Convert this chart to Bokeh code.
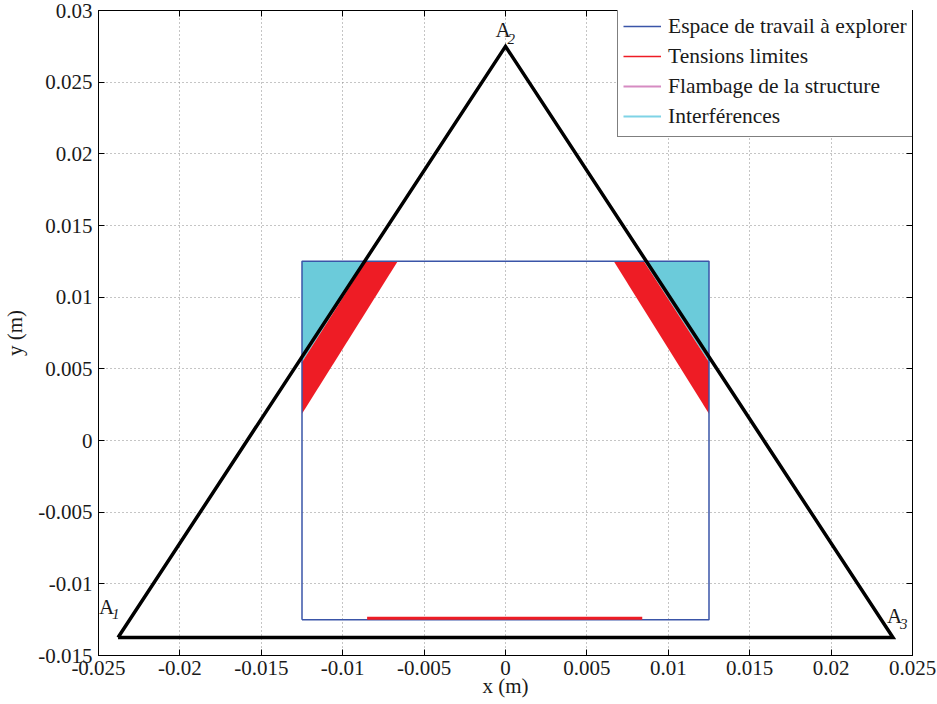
from bokeh.plotting import figure
from bokeh.models import (ColumnDataSource, FixedTicker, CustomJSTickFormatter,
                          LinearAxis, Legend, LegendItem, Range1d)
from bokeh.core.properties import value
from bokeh.embed import file_html
from bokeh.resources import INLINE

# ---------------- data ----------------
triangle_x = [-0.0238, 0.0, 0.0238, -0.0238]
triangle_y = [-0.01375, 0.0275, -0.01375, -0.01375]
vertex_x = [-0.0238, 0.0, 0.0238]
vertex_y = [-0.01375, 0.0275, -0.01375]
vertex_main = ["A", "A", "A"]
vertex_sub = ["1", "2", "3"]

workspace_x = [-0.0125, 0.0125, 0.0125, -0.0125, -0.0125]
workspace_y = [-0.0125, -0.0125, 0.0125, 0.0125, -0.0125]

interf_left_x = [-0.0125, -0.00858, -0.0125]
interf_left_y = [0.0125, 0.0125, 0.00546]
interf_right_x = [0.0125, 0.0085, 0.0125]
interf_right_y = [0.0125, 0.0125, 0.00546]

tension_left_x = [-0.00858, -0.00662, -0.0125, -0.0125]
tension_left_y = [0.0125, 0.0125, 0.00186, 0.00546]
tension_right_x = [0.0085, 0.00665, 0.0125, 0.0125]
tension_right_y = [0.0125, 0.0125, 0.00186, 0.00546]
tension_bottom_x = [-0.0085, 0.0084]
tension_bottom_y = [-0.0124, -0.0124]

x_ticks = [-0.025, -0.02, -0.015, -0.01, -0.005, 0.0, 0.005, 0.01, 0.015, 0.02, 0.025]
y_ticks = [-0.015, -0.01, -0.005, 0.0, 0.005, 0.01, 0.015, 0.02, 0.025, 0.03]
legend_labels = ["Espace de travail à explorer", "Tensions limites",
                 "Flambage de la structure", "Interférences"]

# ---------------- styles ----------------
FONT = "Liberation Serif"
C_BLUE = "#3A55A8"
C_RED = "#EE1C25"
C_PINK = "#D68BC2"
C_CYAN = "#6BCBDA"
C_CYAN_LEG = "#7FD3E6"
TXT = "#1a1a1a"
NAN = float("nan")

p = figure(width=937, height=704, output_backend="svg", toolbar_location=None,
           x_range=Range1d(-0.025, 0.025), y_range=Range1d(-0.015, 0.03),
           min_border_left=96, min_border_right=25, min_border_top=10,
           min_border_bottom=49)
p.background_fill_color = "white"
p.border_fill_color = "white"
p.outline_line_color = "black"
p.outline_line_width = 1

fmt = CustomJSTickFormatter(code="return (Math.round(tick*1000)/1000).toString();")
blank = CustomJSTickFormatter(code="return '';")

x_main = p.xaxis[0]
y_main = p.yaxis[0]
x_main.ticker = FixedTicker(ticks=x_ticks)
y_main.ticker = FixedTicker(ticks=y_ticks)
x_main.axis_label = "x (m)"
y_main.axis_label = "y (m)"

for dim, ticks, loc in (("x", x_ticks, "above"), ("y", y_ticks, "right")):
    ax = LinearAxis(ticker=FixedTicker(ticks=ticks), formatter=blank,
                    major_tick_in=6, major_tick_out=0, minor_tick_line_color=None,
                    major_label_standoff=0, axis_line_color="black")
    p.add_layout(ax, loc)

for ax in (x_main, y_main):
    ax.formatter = fmt
    ax.major_label_text_font = FONT
    ax.major_label_text_font_size = "21px"
    ax.major_label_text_color = TXT
    ax.axis_label_text_font = FONT
    ax.axis_label_text_font_size = "21px"
    ax.axis_label_text_font_style = "normal"
    ax.axis_label_text_color = TXT
    ax.major_tick_in = 6
    ax.major_tick_out = 0
    ax.minor_tick_line_color = None
    ax.axis_line_color = "black"
    ax.major_tick_line_color = "black"

x_main.major_label_standoff = 5
x_main.axis_label_standoff = -4
y_main.major_label_standoff = 6
y_main.axis_label_standoff = 8

p.xgrid.ticker = FixedTicker(ticks=x_ticks)
p.ygrid.ticker = FixedTicker(ticks=y_ticks)
for g in (p.xgrid, p.ygrid):
    g.grid_line_color = "#8a8a8a"
    g.grid_line_dash = "1 3"
    g.grid_line_width = 1

# interference zones
p.patches(xs=[interf_left_x, interf_right_x], ys=[interf_left_y, interf_right_y],
          fill_color=C_CYAN, line_color=None)
# tension-limit zones
p.patches(xs=[tension_left_x, tension_right_x], ys=[tension_left_y, tension_right_y],
          fill_color=C_RED, line_color=None)
# workspace square
r_ws = p.line(workspace_x, workspace_y, line_color=C_BLUE, line_width=1.5)
# bottom tension line
p.line(tension_bottom_x, tension_bottom_y, line_color=C_RED, line_width=3)
# legend-only renderers (a single missing point each, nothing drawn in the plot)
r_ten = p.line([NAN], [NAN], line_color=C_RED, line_width=1.5)
r_fl = p.line([NAN], [NAN], line_color=C_PINK, line_width=2)
r_in = p.line([NAN], [NAN], line_color=C_CYAN_LEG, line_width=2)

# triangle
p.line(triangle_x, triangle_y, line_color="black", line_width=3.5, line_join="miter")

# vertex labels
src_v = ColumnDataSource(dict(x=vertex_x, y=vertex_y, main=vertex_main, sub=vertex_sub,
                              mx=[-19, -10, -6], my=[-31, -16, -22],
                              sx=[-6, 2, 7], sy=[-24, -7, -14]))
p.text(x="x", y="y", text="main", source=src_v, x_offset="mx", y_offset="my",
       text_font=value(FONT), text_font_size="21px", text_color=TXT,
       text_align="left", text_baseline="alphabetic")
p.text(x="x", y="y", text="sub", source=src_v, x_offset="sx", y_offset="sy",
       text_font=value(FONT), text_font_size="15px", text_font_style="italic",
       text_color=TXT, text_align="left", text_baseline="alphabetic")

legend = Legend(items=[LegendItem(label=legend_labels[0], renderers=[r_ws]),
                       LegendItem(label=legend_labels[1], renderers=[r_ten]),
                       LegendItem(label=legend_labels[2], renderers=[r_fl]),
                       LegendItem(label=legend_labels[3], renderers=[r_in])],
                location=(519, 518), margin=0, padding=5, spacing=0,
                glyph_width=38, glyph_height=30, label_height=30, label_standoff=7,
                label_text_font=FONT, label_text_font_size="21.5px", label_text_color=TXT,
                border_line_color="black", border_line_width=1,
                background_fill_color="white", background_fill_alpha=1.0)
p.add_layout(legend)

open("out.html", "w").write(file_html(p, INLINE))
